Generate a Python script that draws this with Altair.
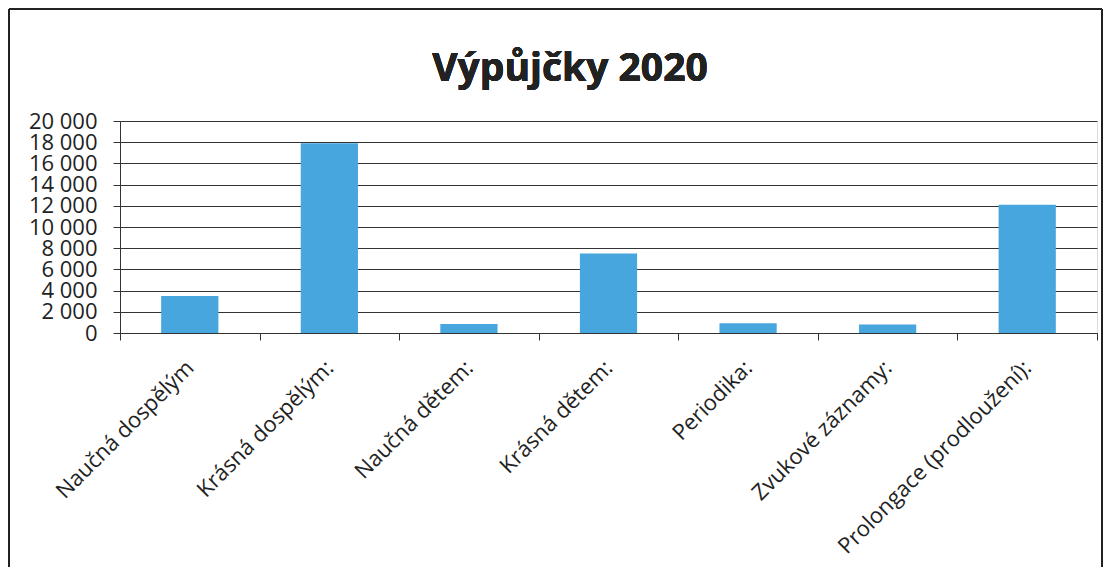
import altair as alt
import pandas as pd

categories = ["Naučná dospělým", "Krásná dospělým:", "Naučná dětem:", "Krásná dětem:",
              "Periodika:", "Zvukové záznamy:", "Prolongace (prodloužení):"]
values = [3500, 17900, 850, 7500, 920, 800, 12100]
y_ticks = list(range(0, 20001, 2000))
title_text = "Výpůjčky 2020"

df = pd.DataFrame({"cat": categories, "val": values})

W, H = 977, 212
FONT = "Open Sans"

x = alt.X("cat:N", sort=categories, title=None,
          scale=alt.Scale(paddingInner=0, paddingOuter=0),
          axis=alt.Axis(labelAngle=-45, labelFont=FONT, labelFontSize=22, labelColor="#222",
                        tickBand="extent", tickSize=7, tickColor="#333", domainColor="#333",
                        labelPadding=24, labelAlign="right", labelBaseline="middle",
                        labelLimit=0, labelOffset=0))
y = alt.Y("val:Q", title=None,
          scale=alt.Scale(domain=[0, 20000], nice=False),
          axis=alt.Axis(values=y_ticks, labelFont=FONT, labelFontSize=22, labelColor="#222",
                        labelExpr="replace(format(datum.value, ','), ',', ' ')",
                        labelOverlap=False, labelFlush=False,
                        tickSize=7, tickColor="#333", domainColor="#333",
                        grid=True, gridColor="#333", gridWidth=1, labelPadding=16))

bars = alt.Chart(df).mark_bar(color="#47A6DE", width=alt.RelativeBandSize(0.41)).encode(x=x, y=y)

def edge(x1, x2, y1, y2):
    return alt.Chart(df).mark_rule(color="#222", strokeWidth=1.2, clip=False).encode(
        x=alt.value(x1), x2=alt.value(x2), y=alt.value(y1), y2=alt.value(y2))

borders = [
    edge(-111, 982, -112, -112),
    edge(-111, -111, -112, 446),
    edge(982, 982, -112, 446),
]

title = alt.Chart(df).mark_text(text=title_text, font=FONT, fontSize=39, fontWeight="bold",
                                color="#222", align="center", baseline="alphabetic", clip=False).encode(
    x=alt.value(450), y=alt.value(-40))

chart = alt.layer(bars, *borders, title).properties(
    width=W, height=H,
    autosize=alt.AutoSizeParams(type="none"),
    padding={"left": 112, "top": 113, "right": 6, "bottom": 234},
).configure_view(stroke=None).configure(background="white")

chart.save("out.html", embed_options={"renderer": "svg", "actions": False})
